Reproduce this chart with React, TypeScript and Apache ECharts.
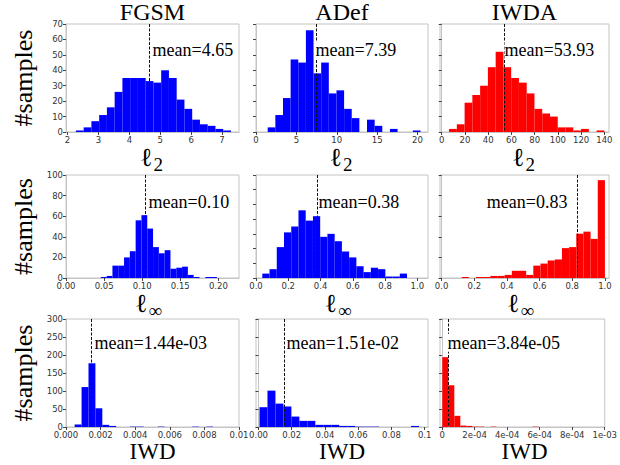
import React, { useEffect, useRef } from "react";
import * as echarts from "echarts";

// ---------- labels ----------
const methods = ["FGSM", "ADef", "IWDA"];
const yAxisTitle = "#samples";
const metricMain = ["ℓ", "ℓ", "IWD"];
const metricSub = ["2", "∞", ""];

// ---------- histogram counts (bins equal width between range ends) ----------
const fgsmL2Range = [2.27, 7.29];
const fgsmL2Counts = [1, 3, 7, 11, 16, 26, 35, 35, 35, 33, 32, 40, 35, 21, 15, 8, 5, 4, 2, 1];
const adefL2Range = [1.45, 20.37];
const adefL2Counts = [3, 11, 22, 47, 45, 66, 38, 45, 25, 27, 15, 9, 0, 8, 4, 0, 2, 0, 0, 1];
const iwdaL2Range = [6.3, 140];
const iwdaL2Counts = [2, 5, 19, 24, 30, 42, 52, 42, 35, 32, 25, 15, 12, 10, 3, 3, 1, 2, 0, 1];

const fgsmLinfRange = [0.0457, 0.198];
const fgsmLinfCounts = [1, 2, 12, 12, 20, 26, 56, 61, 48, 30, 24, 27, 9, 10, 11, 3, 1, 0, 1, 1];
const adefLinfRange = [0.039, 0.936];
const adefLinfCounts = [3, 6, 21, 31, 35, 46, 39, 42, 28, 30, 25, 18, 14, 8, 4, 7, 6, 1, 1, 3];
const iwdaLinfRange = [0.123, 1.0];
const iwdaLinfCounts = [1, 0, 1, 1, 2, 2, 3, 7, 7, 3, 12, 14, 17, 18, 29, 30, 43, 45, 38, 95];

const fgsmIwdRange = [0.0005, 0.0093];
const fgsmIwdCounts = [7, 111, 177, 52, 6, 3, 0, 0, 1, 1, 0, 0, 1, 0, 0, 0, 0, 1, 0, 1, 0, 0];
const adefIwdRange = [0.0006, 0.0966];
const adefIwdCounts = [55, 101, 65, 57, 29, 17, 17, 6, 6, 6, 3, 3, 1, 1, 1, 0, 0, 0, 0, 3];
const iwdaIwdRange = [0.000001, 0.001];
const iwdaIwdCounts = [194, 116, 31, 4, 3, 1, 1, 0, 1, 0, 0, 0, 0, 0, 0, 1, 0, 0, 0, 0, 0, 0, 0, 0, 0, 0, 0];

// ---------- means ----------
const meanValues = [4.65, 7.39, 53.93, 0.104, 0.38, 0.83, 0.00144, 0.0151, 0.0000384];
const meanLabels = ["mean=4.65", "mean=7.39", "mean=53.93", "mean=0.10", "mean=0.38", "mean=0.83", "mean=1.44e-03", "mean=1.51e-02", "mean=3.84e-05"];

// ---------- ticks ----------
const fgsmL2Ticks = [2, 3, 4, 5, 6, 7];
const adefL2Ticks = [0, 5, 10, 15, 20];
const iwdaL2Ticks = [0, 20, 40, 60, 80, 100, 120, 140];
const fgsmLinfTicks = [0, 0.05, 0.1, 0.15, 0.2];
const fgsmLinfTickLabels = ["0.00", "0.05", "0.10", "0.15", "0.20"];
const unitTicks = [0, 0.2, 0.4, 0.6, 0.8, 1.0];
const unitTickLabels = ["0.0", "0.2", "0.4", "0.6", "0.8", "1.0"];
const fgsmIwdTicks = [0, 0.002, 0.004, 0.006, 0.008, 0.01];
const fgsmIwdTickLabels = ["0.000", "0.002", "0.004", "0.006", "0.008", "0.01"];
const adefIwdTicks = [0, 0.02, 0.04, 0.06, 0.08, 0.1];
const adefIwdTickLabels = ["0.00", "0.02", "0.04", "0.06", "0.08", "0.1"];
const iwdaIwdTicks = [0, 0.0002, 0.0004, 0.0006, 0.0008, 0.001];
const iwdaIwdTickLabels = ["0", "2e-04", "4e-04", "6e-04", "8e-04", "1e-03"];

// ---------- layout ----------
const colLeft = [66, 256, 440];
const colWidth = [173, 172, 169];
const rowTop = [24, 175, 319];
const rowHeight = [108, 103, 108];
const BLUE = "#0000ff";
const RED = "#ff0000";
const SERIF = '"Liberation Serif", "Times New Roman", serif';
const SANS = '"DejaVu Sans", sans-serif';

const panels = [
  { counts: fgsmL2Counts, range: fgsmL2Range, ticks: fgsmL2Ticks, labels: null, xlim: [1.95, 7.55], ymax: 70, ystep: 10, color: BLUE, dx: 3, align: "left" },
  { counts: adefL2Counts, range: adefL2Range, ticks: adefL2Ticks, labels: null, xlim: [0, 21.3], ymax: 70, ystep: 10, color: BLUE, dx: -1, align: "left" },
  { counts: iwdaL2Counts, range: iwdaL2Range, ticks: iwdaL2Ticks, labels: null, xlim: [-1.5, 144], ymax: 70, ystep: 10, color: RED, dx: 0, align: "left" },
  { counts: fgsmLinfCounts, range: fgsmLinfRange, ticks: fgsmLinfTicks, labels: fgsmLinfTickLabels, xlim: [0, 0.227], ymax: 100, ystep: 20, color: BLUE, dx: 3, align: "left" },
  { counts: adefLinfCounts, range: adefLinfRange, ticks: unitTicks, labels: unitTickLabels, xlim: [0, 1.066], ymax: 70, ystep: 10, color: BLUE, dx: 1, align: "left" },
  { counts: iwdaLinfCounts, range: iwdaLinfRange, ticks: unitTicks, labels: unitTickLabels, xlim: [-0.01, 1.025], ymax: 100, ystep: 20, color: RED, dx: -10, align: "right" },
  { counts: fgsmIwdCounts, range: fgsmIwdRange, ticks: fgsmIwdTicks, labels: fgsmIwdTickLabels, xlim: [0, 0.01], ymax: 300, ystep: 50, color: BLUE, dx: 3, align: "left" },
  { counts: adefIwdCounts, range: adefIwdRange, ticks: adefIwdTicks, labels: adefIwdTickLabels, xlim: [-0.0015, 0.102], ymax: 300, ystep: 50, color: BLUE, dx: 2, align: "left" },
  { counts: iwdaIwdCounts, range: iwdaIwdRange, ticks: iwdaIwdTicks, labels: iwdaIwdTickLabels, xlim: [-0.000013, 0.001], ymax: 300, ystep: 50, color: RED, dx: -1, align: "left" },
];
const textRowFrac = [0.755, 0.74, 0.78];

function buildOption() {
  const grid: any[] = [];
  const xAxis: any[] = [];
  const yAxis: any[] = [];
  const series: any[] = [];
  const graphic: any[] = [];

  panels.forEach((p, i) => {
    const r = Math.floor(i / 3);
    const c = i % 3;
    grid.push({
      left: colLeft[c], top: rowTop[r], width: colWidth[c], height: rowHeight[r],
      show: true, borderColor: "#c4c4c4", borderWidth: 1, containLabel: false,
    });
    const labelMap = (v: number) => {
      const k = p.ticks.findIndex((t) => Math.abs(t - v) < 1e-12);
      if (k < 0) return "";
      return p.labels ? p.labels[k] : String(p.ticks[k]);
    };
    xAxis.push({
      gridIndex: i, type: "value", min: p.xlim[0], max: p.xlim[1],
      axisLine: { show: true, lineStyle: { color: "#c4c4c4", width: 1 } },
      axisTick: { show: true, length: 3, lineStyle: { color: "#444" }, customValues: p.ticks },
      axisLabel: { show: true, customValues: p.ticks, formatter: labelMap, fontSize: 8.5, fontFamily: SANS, color: "#333", margin: 3 },
      splitLine: { show: false },
    });
    yAxis.push({
      gridIndex: i, type: "value", min: 0, max: p.ymax, interval: p.ystep,
      axisLine: { show: true, lineStyle: { color: "#c4c4c4", width: 1 } },
      axisTick: { show: true, length: 3, lineStyle: { color: "#444" } },
      axisLabel: { show: c === 0, fontSize: 8.5, fontFamily: SANS, color: "#333", margin: 3 },
      splitLine: { show: false },
    });
    const n = p.counts.length;
    const w = (p.range[1] - p.range[0]) / n;
    const data = p.counts.map((cnt, k) => [p.range[0] + k * w, p.range[0] + (k + 1) * w, cnt]);
    series.push({
      type: "custom", xAxisIndex: i, yAxisIndex: i, data,
      encode: { x: [0, 1], y: 2 },
      renderItem: (params: any, api: any) => {
        const h = api.value(2);
        if (!h) return null;
        const a = api.coord([api.value(0), 0]);
        const b = api.coord([api.value(1), h]);
        return {
          type: "rect",
          shape: { x: a[0], y: b[1], width: b[0] - a[0], height: a[1] - b[1] },
          style: { fill: p.color },
        };
      },
      z: 2,
    });
    const frac = textRowFrac[r];
    series.push({
      type: "custom", xAxisIndex: i, yAxisIndex: i, data: [[meanValues[i], 0]],
      encode: { x: 0, y: 1 },
      renderItem: (params: any, api: any) => {
        const cs = params.coordSys;
        const px = Math.round(api.coord([api.value(0), 0])[0]) + 0.5;
        return {
          type: "group",
          children: [
            { type: "line", shape: { x1: px, y1: cs.y, x2: px, y2: cs.y + cs.height }, style: { stroke: "#111", lineWidth: 1, lineDash: [3, 1.5] } },
            {
              type: "text", x: px + p.dx, y: cs.y + cs.height * (1 - frac), z2: 10,
              style: { text: meanLabels[i], fill: "#000", fontSize: 18, fontFamily: SERIF, align: p.align, verticalAlign: "middle", backgroundColor: "#fff" },
            },
          ],
        };
      },
      z: 5,
    });
  });

  // column titles
  methods.forEach((m, c) => {
    graphic.push({ type: "text", x: colLeft[c] + colWidth[c] / 2, y: 12, style: { text: m, fontSize: 24, fontFamily: SERIF, fill: "#000", align: "center", verticalAlign: "middle" } });
  });
  // y titles
  rowTop.forEach((t, r) => {
    graphic.push({ type: "text", x: 23, y: t + rowHeight[r] / 2, rotation: Math.PI / 2, style: { text: yAxisTitle, fontSize: 26, fontFamily: SERIF, fill: "#000", align: "center", verticalAlign: "middle" } });
  });
  // x titles
  for (let r = 0; r < 3; r++) {
    const bottom = rowTop[r] + rowHeight[r];
    for (let c = 0; c < 3; c++) {
      const cx = colLeft[c] + colWidth[c] / 2;
      if (metricSub[r]) {
        const shift = r === 1 ? -5 : 0;
        graphic.push({ type: "text", x: cx + shift, y: bottom + 25, style: { text: metricMain[r], fontSize: 26, fontFamily: SERIF, fill: "#000", align: "right", verticalAlign: "middle" } });
        graphic.push({ type: "text", x: cx + shift + 1, y: bottom + 32, style: { text: metricSub[r], fontSize: 19, fontFamily: SERIF, fill: "#000", align: "left", verticalAlign: "middle" } });
      } else {
        graphic.push({ type: "text", x: cx, y: bottom + 24, style: { text: metricMain[r], fontSize: 23, fontFamily: SERIF, fill: "#000", align: "center", verticalAlign: "middle" } });
      }
    }
  }

  return { animation: false, backgroundColor: "#fff", grid, xAxis, yAxis, series, graphic };
}

export default function App() {
  const ref = useRef<HTMLDivElement>(null);
  useEffect(() => {
    document.body.style.margin = "0";
    if (!ref.current) return;
    const chart = echarts.init(ref.current, undefined, { renderer: "svg" });
    chart.setOption(buildOption() as any);
    return () => chart.dispose();
  }, []);
  return <div ref={ref} style={{ width: 620, height: 465 }} />;
}
